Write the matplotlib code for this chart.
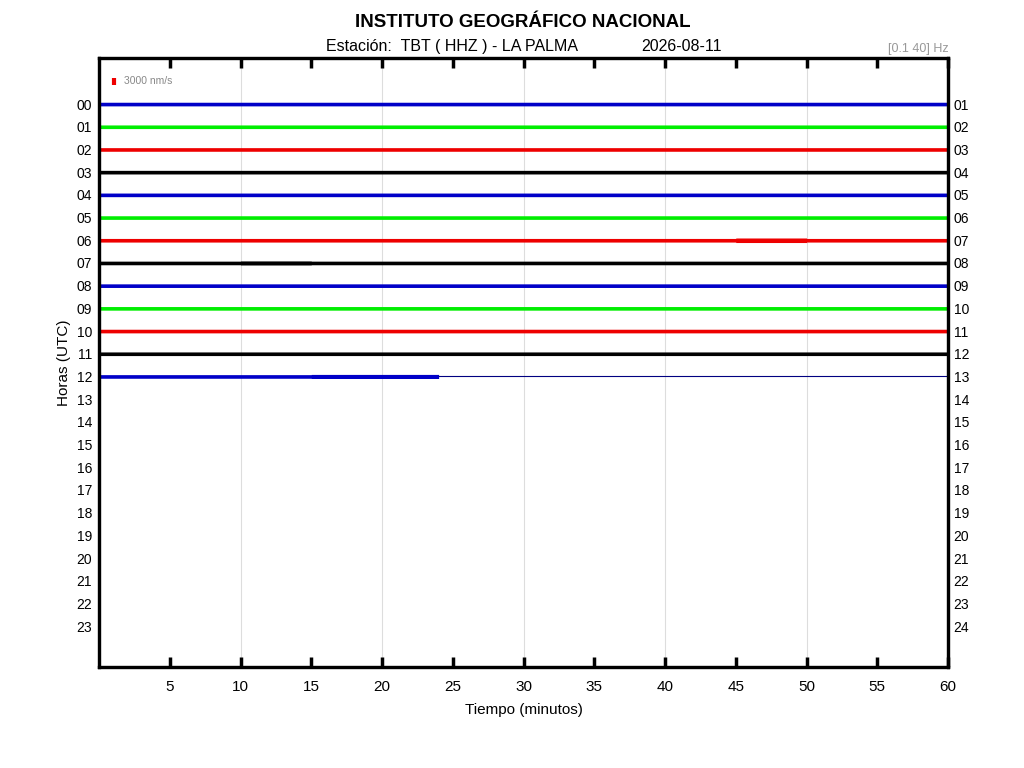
import numpy as np
import matplotlib.pyplot as plt

plt.rcParams['font.family'] = ['Liberation Sans', 'DejaVu Sans']

# helicorder rows: one trace per hour
row_labels_left = ["%02d" % h for h in range(24)]
row_labels_right = ["%02d" % h for h in range(1, 25)]
trace_colors = ["#0000c8", "#00ee00", "#ee0000", "#000000"]

# segment edges in minutes (5-min blocks)
seg_edges = [0, 5, 10, 15, 20, 25, 30, 35, 40, 45, 50, 55, 60]

# half-amplitude of each trace per 5-min block, in row units
amp = {
    0:  [0.08, 0.08, 0.08, 0.08, 0.08, 0.08, 0.08, 0.08, 0.08, 0.08, 0.08, 0.08],
    1:  [0.08, 0.08, 0.08, 0.08, 0.08, 0.08, 0.08, 0.08, 0.08, 0.08, 0.08, 0.08],
    2:  [0.08, 0.08, 0.08, 0.08, 0.08, 0.08, 0.08, 0.08, 0.08, 0.08, 0.08, 0.08],
    3:  [0.08, 0.08, 0.08, 0.08, 0.08, 0.08, 0.08, 0.08, 0.08, 0.08, 0.08, 0.08],
    4:  [0.08, 0.08, 0.08, 0.08, 0.08, 0.08, 0.08, 0.08, 0.08, 0.08, 0.08, 0.08],
    5:  [0.08, 0.08, 0.08, 0.08, 0.08, 0.08, 0.08, 0.08, 0.08, 0.08, 0.08, 0.08],
    6:  [0.08, 0.08, 0.08, 0.08, 0.08, 0.08, 0.08, 0.08, 0.08, 0.10, 0.08, 0.08],
    7:  [0.08, 0.08, 0.09, 0.08, 0.08, 0.08, 0.08, 0.08, 0.08, 0.08, 0.08, 0.08],
    8:  [0.08, 0.08, 0.08, 0.08, 0.08, 0.08, 0.08, 0.08, 0.08, 0.08, 0.08, 0.08],
    9:  [0.08, 0.08, 0.08, 0.08, 0.08, 0.08, 0.08, 0.08, 0.08, 0.08, 0.08, 0.08],
    10: [0.08, 0.08, 0.08, 0.08, 0.08, 0.08, 0.08, 0.08, 0.08, 0.08, 0.08, 0.08],
    11: [0.08, 0.08, 0.08, 0.08, 0.08, 0.08, 0.08, 0.08, 0.08, 0.08, 0.08, 0.08],
    12: [0.08, 0.08, 0.08, 0.09, 0.09],
}
last_row = 12
last_row_end = 24.0  # minutes of data in the current hour

fig = plt.figure(figsize=(10.24, 7.68), dpi=100)
ax = fig.add_axes([0.0967, 0.1315, 0.8291, 0.793])

for r, a in amp.items():
    col = trace_colors[r % 4]
    x = list(seg_edges[:len(a)])
    x.append(last_row_end if r == last_row else 60)
    h = np.array(a + [a[-1]])
    ax.fill_between(x, r - h, r + h, step='post', color=col, lw=0, snap=False)

# flat line after the data ends
ax.plot([last_row_end, 60], [last_row, last_row], color="#000080", lw=0.8)

# amplitude scale bar
ax.plot([1.05, 1.05], [-1.15, -0.85], color="#ee0000", lw=3, solid_capstyle='butt')
ax.text(1.8, -1.0, "3000 nm/s", color="#888888", fontsize=7.5, va='center')

ax.set_xlim(0, 60)
ax.set_ylim(24.8, -2.03)
for g in [10, 20, 30, 40, 50]:
    ax.axvline(g, color="#dddddd", lw=0.8, zorder=0)

ax.set_xticks([5, 10, 15, 20, 25, 30, 35, 40, 45, 50, 55, 60])
ax.tick_params(axis='x', direction='in', length=7, width=2.5, top=True,
               labelsize=11, pad=9)
ax.set_yticks(range(24))
ax.set_yticklabels(row_labels_left)
ax.tick_params(axis='y', length=0, labelsize=10, pad=5)

ax2 = ax.twinx()
ax2.set_ylim(ax.get_ylim())
ax2.set_yticks(range(24))
ax2.set_yticklabels(row_labels_right)
ax2.tick_params(axis='y', length=0, labelsize=10, pad=4)

for a_ in (ax, ax2):
    for s in a_.spines.values():
        s.set_linewidth(2.3)

ax.set_xlabel("Tiempo (minutos)", fontsize=11, labelpad=6.5)
ax.set_ylabel("Horas (UTC)", fontsize=11, labelpad=4)

fig.text(0.511, 0.971, "INSTITUTO GEOGRÁFICO NACIONAL", ha='center', va='center',
         fontsize=13.5, fontweight='bold')
fig.text(0.4414, 0.939, "Estación:  TBT ( HHZ ) - LA PALMA", ha='center', va='center',
         fontsize=11.5)
fig.text(0.6655, 0.939, "2026-08-11", ha='center', va='center', fontsize=11.5)
fig.text(0.926, 0.936, "[0.1 40] Hz", ha='right', va='center', fontsize=9,
         color="#999999")

fig.savefig("out.png", dpi=100)
